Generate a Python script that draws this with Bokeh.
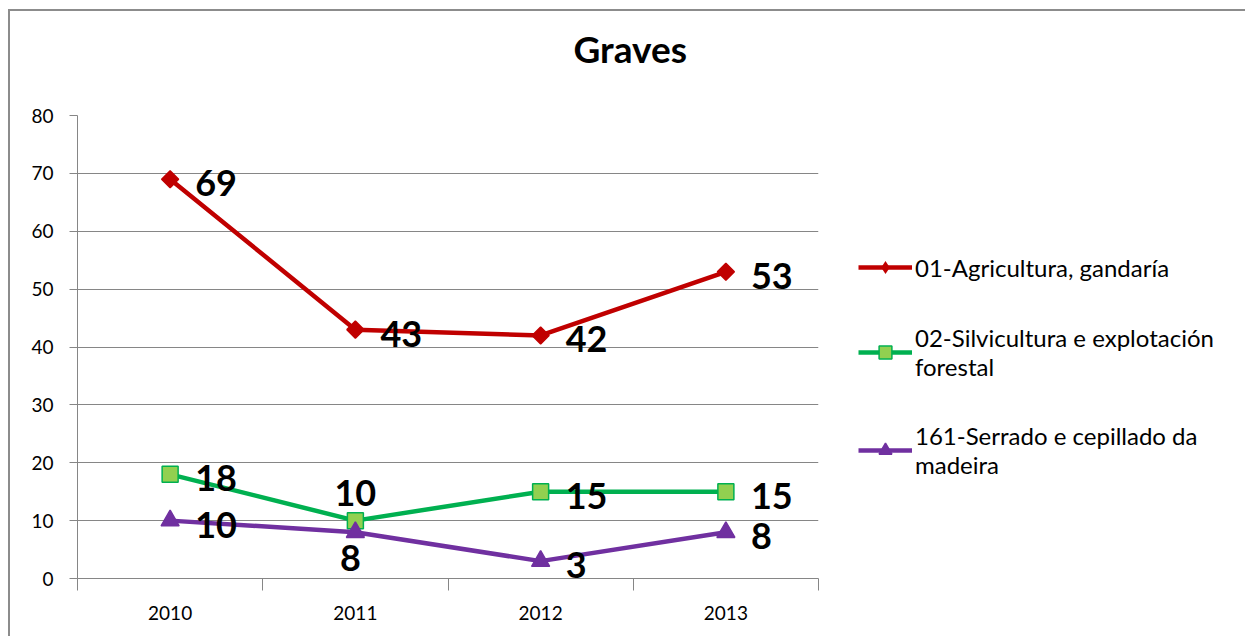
import math
from bokeh.plotting import figure
from bokeh.models import (FixedTicker, Legend, LegendItem, ColumnDataSource, Title)
from bokeh.core.properties import value
from bokeh.embed import file_html
from bokeh.resources import INLINE

years = ["2010", "2011", "2012", "2013"]
agri = [69, 43, 42, 53]
silvi = [18, 10, 15, 15]
serrado = [10, 8, 3, 8]
names = ["01-Agricultura, gandaría",
         "02-Silvicultura e explotación\nforestal",
         "161-Serrado e cepillado da\nmadeira"]
y_ticks = [0, 10, 20, 30, 40, 50, 60, 70, 80]

# label placement per point: r = right, a = above, b = below
agri_pos = ["r", "r", "r", "r"]
silvi_pos = ["r", "a", "r", "r"]
serrado_pos = ["r", "b", "r", "r"]

FONT = "Lato"
GRID = "#868686"

xs = [i + 0.5 for i in range(len(years))]

p = figure(frame_width=741, frame_height=463, x_range=(0, len(years)), y_range=(0, 80),
           output_backend="svg", toolbar_location=None,
           min_border_left=67, min_border_right=427, min_border_top=104, min_border_bottom=58)
p.styles = {"border-left": "2px solid #8c8c8c", "border-top": "2px solid #8c8c8c",
            "margin-left": "8px", "margin-top": "9px"}
p.outline_line_color = None
p.background_fill_color = "white"
p.border_fill_color = "white"

# x axis: category labels at centers, boundary ticks as minor ticks
p.xaxis.ticker = FixedTicker(ticks=xs, minor_ticks=list(range(len(years) + 1)))
p.xaxis.major_label_overrides = {x: y for x, y in zip(xs, years)}
p.xaxis.major_tick_out = 0
p.xaxis.major_tick_in = 0
p.xaxis.minor_tick_out = 12
p.xaxis.minor_tick_in = 0
p.xaxis.minor_tick_line_color = GRID
p.xaxis.axis_line_color = GRID
p.xaxis.major_label_standoff = 15
p.xaxis.major_label_text_font = FONT
p.xaxis.major_label_text_font_size = "19px"
p.xaxis.major_label_text_color = "black"
p.xgrid.grid_line_color = None

p.yaxis.ticker = FixedTicker(ticks=y_ticks)
p.yaxis.major_tick_out = 8
p.yaxis.major_tick_in = 0
p.yaxis.major_tick_line_color = GRID
p.yaxis.minor_tick_line_color = None
p.yaxis.axis_line_color = GRID
p.yaxis.major_label_standoff = 16
p.yaxis.major_label_text_font = FONT
p.yaxis.major_label_text_font_size = "19px"
p.yaxis.major_label_text_color = "black"
p.ygrid.grid_line_color = GRID
p.ygrid.grid_line_width = 1

# trailing empty line lifts the title away from the frame
t = Title(text="Graves\n", text_font=FONT, text_font_size="37px", text_font_style="bold",
          text_color="black", align="left", offset=496, standoff=0)
p.add_layout(t, "above")

series = [
    (agri, agri_pos, "#C00000", "square", 12, math.pi / 4, "#C00000", "#C00000"),
    (silvi, silvi_pos, "#00B050", "square", 16, 0, "#92D050", "#00B050"),
    (serrado, serrado_pos, "#7030A0", "triangle", 18, 0, "#7030A0", "#7030A0"),
]

items = []
for (vals, pos, col, mk, sz, ang, fill, edge), name in zip(series, names):
    src = ColumnDataSource(dict(x=xs, y=vals))
    lr = p.line("x", "y", source=src, line_color=col, line_width=4.5)
    sr = p.scatter("x", "y", source=src, marker=mk, size=sz, angle=ang, fill_color=fill,
                   line_color=edge, line_width=1.5)
    rend = [lr, sr]
    if ang:
        # diamond glyph (fits inside the rotated square) so the legend shows a diamond
        dr = p.scatter("x", "y", source=src, marker="diamond", size=16, fill_color=fill,
                       line_color=edge, line_width=0)
        rend = [lr, dr]
    for kind, xo, yo, align in [("r", 25, 4, "left"), ("a", 0, -28, "center"), ("b", -5, 26, "center")]:
        idx = [i for i, kk in enumerate(pos) if kk == kind]
        if not idx:
            continue
        s2 = ColumnDataSource(dict(x=[xs[i] for i in idx], y=[vals[i] for i in idx],
                                   lab=[str(vals[i]) for i in idx]))
        p.text("x", "y", text="lab", source=s2, x_offset=xo, y_offset=yo,
               text_align=align, text_baseline="middle", text_font=value(FONT),
               text_font_style="bold", text_font_size="36px", text_color="black")
    items.append(LegendItem(label=name, renderers=rend))

leg = Legend(items=items, location=(40, 99),
             padding=0, margin=0, border_line_color=None, background_fill_alpha=0,
             glyph_width=54, glyph_height=32, label_standoff=3, spacing=40,
             label_text_font=FONT, label_text_font_size="24px", label_text_color="black",
             label_text_line_height=1.3)
p.add_layout(leg, "right")

open("out.html", "w").write(file_html(p, INLINE))
